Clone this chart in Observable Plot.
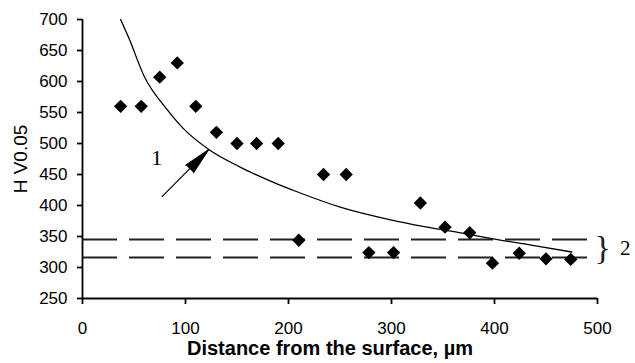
<!DOCTYPE html>
<html>
<head>
<meta charset="utf-8">
<script src="https://cdn.jsdelivr.net/npm/d3@7"></script>
<script src="https://cdn.jsdelivr.net/npm/@observablehq/plot@0.6"></script>
<style>
  html, body { margin: 0; padding: 0; background: #fff; }
  #chart svg { display: block; }
  g[aria-label="x-axis tick"] path, g[aria-label="y-axis tick"] path { stroke-width: 1.8; }
</style>
</head>
<body>
<div id="chart"></div>
<script>
// Measured hardness points
const distance = [37, 57, 75, 92, 110, 130, 150, 169, 190, 210, 234, 256, 278, 302, 328, 352, 376, 398, 424, 450, 474];
const hardness = [560, 560, 607, 630, 560, 518, 500, 500, 500, 344, 450, 450, 324, 324, 404, 365, 356, 307, 323, 314, 313];

// Curve 1
const curveX = [37, 45, 60, 82, 98, 123, 153, 186, 207, 251, 299, 332, 370, 403, 440, 475];
const curveY = [700, 670, 608, 555, 524, 490, 462, 437, 423, 397, 377, 366, 355, 345, 335, 325];

// Band 2 (dashed levels)
const bandLevels = [345, 316];

// Axis ticks
const xTicks = [0, 100, 200, 300, 400, 500];
const yTicks = [250, 300, 350, 400, 450, 500, 550, 600, 650, 700];

// Annotations
const arrowFrom = {x: 77, y: 414};
const arrowTo = {x: 122.4, y: 490};
const label1 = {x: 72, y: 476, text: "1"};
const brace = {x: 505, y: 331, text: "}"};
const label2 = {x: 527, y: 331, text: "2"};
const yTitle = {x: 0, y: 475, text: "H V0.05"};

const points = distance.map((d, i) => ({x: d, y: hardness[i]}));
const curve = curveX.map((d, i) => ({x: d, y: curveY[i]}));

const chart = Plot.plot({
  width: 635,
  height: 363,
  marginLeft: 82,
  marginRight: 38,
  marginTop: 19,
  marginBottom: 65,
  style: {fontFamily: "'Liberation Sans', Arial, sans-serif", fontSize: "17px", color: "black", background: "white"},
  x: {domain: [0, 500], ticks: xTicks, tickSize: 6, tickPadding: 17, label: null},
  y: {domain: [250, 700], ticks: yTicks, tickSize: 5, tickPadding: 10, label: null},
  marks: [
    Plot.ruleY(bandLevels, {x1: 0, x2: 500, stroke: "#222", strokeWidth: 2, strokeDasharray: "35,12"}),
    Plot.line(curve, {x: "x", y: "y", curve: "monotone-x", stroke: "black", strokeWidth: 1.3}),
    Plot.dot(points, {x: "x", y: "y", symbol: "diamond2", r: 6, fill: "black", stroke: "none"}),
    Plot.ruleX([0], {stroke: "black", strokeWidth: 1.8}),
    Plot.ruleY([250], {stroke: "black", strokeWidth: 1.8}),
    Plot.link([{}], {x1: () => arrowFrom.x, y1: () => arrowFrom.y, x2: () => arrowTo.x, y2: () => arrowTo.y, stroke: "black", strokeWidth: 1.2}),
    Plot.vector([arrowTo], {x: "x", y: "y", length: 27, rotate: 44.5, anchor: "end", shape: "spike", r: 5.5, fill: "black", stroke: "black", strokeWidth: 1}),
    Plot.text([label1], {x: "x", y: "y", text: "text", fontFamily: "'Liberation Serif', 'Times New Roman', serif", fontSize: 22, fill: "black"}),
    Plot.text([brace], {x: "x", y: "y", text: "text", fontFamily: "'Liberation Serif', 'Times New Roman', serif", fontSize: 34, fill: "#222", clip: false}),
    Plot.text([label2], {x: "x", y: "y", text: "text", fontFamily: "'Liberation Serif', 'Times New Roman', serif", fontSize: 21, fill: "black", clip: false}),
    Plot.text([yTitle], {x: "x", y: "y", text: "text", dx: -62, rotate: -90, fontSize: 19, fill: "black", clip: false}),
    Plot.text(["Distance from the surface, µm"], {frameAnchor: "bottom", dy: 56, dx: -10, text: d => d, fontSize: 20, fontWeight: "bold", fill: "black"})
  ]
});
document.getElementById("chart").appendChild(chart);
</script>
</body>
</html>
